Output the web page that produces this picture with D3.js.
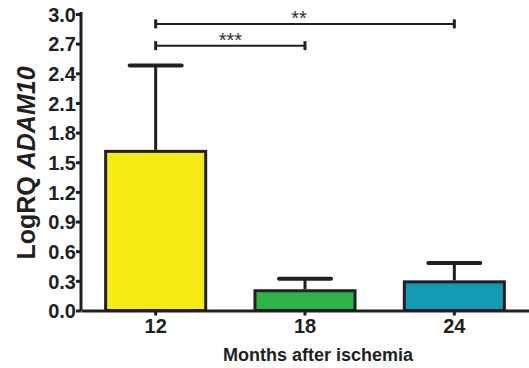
<!DOCTYPE html>
<html>
<head>
<meta charset="utf-8">
<script src="https://d3js.org/d3.v7.min.js"></script>
<style>
  body { margin: 0; background: #fff; }
  svg { display: block; font-family: "Liberation Sans", Arial, sans-serif; }
</style>
</head>
<body>
<svg id="chart"></svg>
<script>
// values
var months = ["12", "18", "24"];
var means = [1.61, 0.20, 0.29];
var errors = [0.87, 0.12, 0.19];
var barColors = ["#f6eb14", "#2eb34a", "#149ab5"];
var yTicks = [0, 0.3, 0.6, 0.9, 1.2, 1.5, 1.8, 2.1, 2.4, 2.7, 3.0];

// significance brackets
var sigFrom = ["12", "12"];
var sigTo = ["18", "24"];
var sigLevel = [2.68, 2.90];
var sigLabel = ["***", "**"];

var width = 529, height = 368;
var ink = "#231f20";

var svg = d3.select("#chart")
    .attr("width", width)
    .attr("height", height);

var xScale = d3.scaleBand()
    .domain(months)
    .range([81, 529])
    .paddingInner(0.33)
    .paddingOuter(0.165);

var yScale = d3.scaleLinear()
    .domain([0, 3])
    .range([310.5, 14]);

var data = months.map(function(m, i) {
  return { month: m, mean: means[i], err: errors[i], color: barColors[i] };
});

// bars
svg.selectAll(".bar")
  .data(data)
  .enter()
  .append("rect")
    .classed("bar", true)
    .attr("x", d => xScale(d.month))
    .attr("width", xScale.bandwidth())
    .attr("y", d => yScale(d.mean))
    .attr("height", d => yScale(0) - yScale(d.mean))
    .attr("fill", d => d.color)
    .attr("stroke", ink)
    .attr("stroke-width", 3);

// error bars (upper only)
var capHalf = 26;
var err = svg.selectAll(".err")
  .data(data)
  .enter()
  .append("g")
    .classed("err", true)
    .attr("stroke", ink);

err.append("line")
    .attr("x1", d => xScale(d.month) + xScale.bandwidth() / 2)
    .attr("x2", d => xScale(d.month) + xScale.bandwidth() / 2)
    .attr("y1", d => yScale(d.mean) - 1.5)
    .attr("y2", d => yScale(d.mean + d.err))
    .attr("stroke-width", 3);

err.append("line")
    .attr("x1", d => xScale(d.month) + xScale.bandwidth() / 2 - capHalf)
    .attr("x2", d => xScale(d.month) + xScale.bandwidth() / 2 + capHalf)
    .attr("y1", d => yScale(d.mean + d.err))
    .attr("y2", d => yScale(d.mean + d.err))
    .attr("stroke-width", 4)
    .attr("stroke-linecap", "round");

// axes
var yAxis = d3.axisLeft(yScale)
    .tickValues(yTicks)
    .tickFormat(d3.format(".1f"))
    .tickSizeInner(5)
    .tickSizeOuter(0)
    .tickPadding(0);

var gy = svg.append("g")
    .classed("y-axis", true)
    .attr("transform", "translate(81,0)")
    .call(yAxis);

gy.select(".domain").attr("d", "M0," + (yScale(3) - 2) + "V" + yScale(0));

var xAxis = d3.axisBottom(xScale)
    .tickSizeInner(5)
    .tickSizeOuter(0)
    .tickPadding(3);

var gx = svg.append("g")
    .classed("x-axis", true)
    .attr("transform", "translate(0," + yScale(0) + ")")
    .call(xAxis);

[gx, gy].forEach(function(g) {
  g.select(".domain").attr("stroke", ink).attr("stroke-width", 3);
  g.selectAll(".tick line").attr("stroke", ink).attr("stroke-width", 3);
  g.selectAll(".tick text")
      .attr("fill", ink)
      .style("font-family", "'Liberation Sans', Arial, sans-serif")
      .style("font-weight", "bold");
});
gy.selectAll(".tick text").style("font-size", "20px").attr("dy", "0.36em");
gx.selectAll(".tick text").style("font-size", "20px");

// significance brackets
var sig = sigLabel.map(function(lab, i) {
  return {
    x1: xScale(sigFrom[i]) + xScale.bandwidth() / 2,
    x2: xScale(sigTo[i]) + xScale.bandwidth() / 2,
    y: yScale(sigLevel[i]),
    label: lab
  };
});

var br = svg.selectAll(".sig")
  .data(sig)
  .enter()
  .append("g")
    .classed("sig", true)
    .attr("stroke", ink);

br.append("line")
    .attr("x1", d => d.x1)
    .attr("x2", d => d.x2)
    .attr("y1", d => d.y)
    .attr("y2", d => d.y)
    .attr("stroke-width", 2);

br.append("line")
    .attr("x1", d => d.x1)
    .attr("x2", d => d.x1)
    .attr("y1", d => d.y - 4.5)
    .attr("y2", d => d.y + 4.5)
    .attr("stroke-width", 3);

br.append("line")
    .attr("x1", d => d.x2)
    .attr("x2", d => d.x2)
    .attr("y1", d => d.y - 4.5)
    .attr("y2", d => d.y + 4.5)
    .attr("stroke-width", 3);

br.append("text")
    .attr("x", d => d.label === "**" ? (d.x1 + d.x2) / 2 - 6 : (d.x1 + d.x2) / 2)
    .attr("y", d => d.y + 1)
    .attr("stroke", "none")
    .attr("fill", "#333")
    .style("font-size", "20px")
    .style("text-anchor", "middle")
    .text(d => d.label);

// axis titles
var yTitle = svg.append("text")
    .attr("transform", "translate(35,163) rotate(-90)")
    .style("text-anchor", "middle")
    .style("font-size", "25px")
    .style("font-weight", "bold")
    .attr("fill", ink);
yTitle.append("tspan").text("LogRQ ");
yTitle.append("tspan").style("font-style", "italic").text("ADAM10");

svg.append("text")
    .attr("x", 318)
    .attr("y", 361)
    .style("text-anchor", "middle")
    .style("font-size", "18px")
    .style("font-weight", "bold")
    .attr("fill", ink)
    .text("Months after ischemia");
</script>
</body>
</html>
